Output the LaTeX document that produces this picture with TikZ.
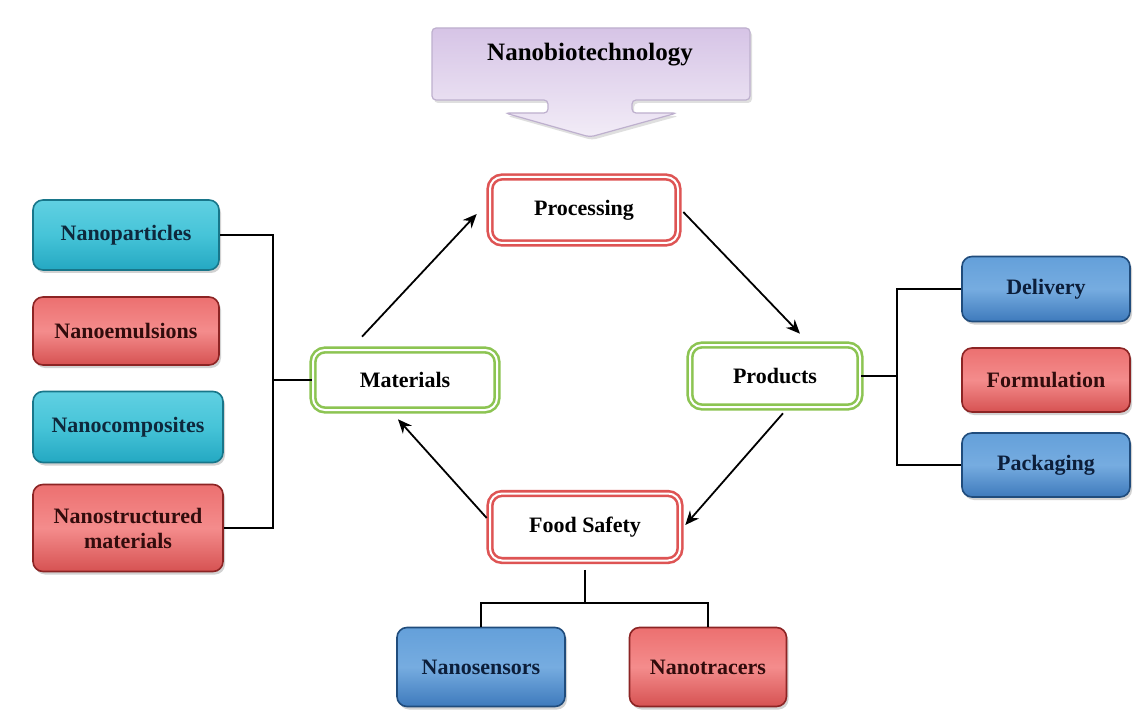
\documentclass[tikz,border=0pt]{standalone}
\usepackage{fontspec}
\setmainfont{Liberation Serif}
\usetikzlibrary{arrows.meta,shadows}

\definecolor{cyantop}{RGB}{96,208,226}
\definecolor{cyanmid}{RGB}{70,196,216}
\definecolor{cyanbot}{RGB}{36,168,194}
\definecolor{cyanline}{RGB}{24,118,138}
\definecolor{cyantext}{RGB}{14,40,60}
\definecolor{redtop}{RGB}{236,112,112}
\definecolor{redmid}{RGB}{244,140,140}
\definecolor{redbot}{RGB}{214,82,82}
\definecolor{redline}{RGB}{140,36,36}
\definecolor{redtext}{RGB}{50,12,12}
\definecolor{bluetop}{RGB}{100,160,218}
\definecolor{bluemid}{RGB}{118,172,224}
\definecolor{bluebot}{RGB}{62,122,188}
\definecolor{blueline}{RGB}{32,76,124}
\definecolor{bluetext}{RGB}{12,30,58}
\definecolor{framered}{RGB}{222,84,84}
\definecolor{framegreen}{RGB}{140,196,82}
\definecolor{lilactop}{RGB}{214,196,230}
\definecolor{lilacbot}{RGB}{242,236,247}
\definecolor{lilacline}{RGB}{190,176,206}

\begin{document}
\begin{tikzpicture}[x=0.5pt,y=-0.5pt,
	box/.style={rounded corners=5pt, draw=#1line, line width=0.8pt,
		top color=#1top, bottom color=#1bot, middle color=#1mid,
		drop shadow={opacity=0.35,shadow xshift=1pt,shadow yshift=-1.5pt},
		font=\bfseries\fontsize{11}{12.5}\selectfont, text=#1text,
		align=center, inner sep=0pt},
	frame/.style={rounded corners=6pt, draw=#1, double=white,
		double distance=1pt, line width=1.3pt, fill=white,
		font=\bfseries\fontsize{11}{12.5}\selectfont, inner sep=0pt},
	flow/.style={-{Stealth[length=7pt,width=6pt]}, line width=0.9pt},
	link/.style={line width=0.7pt}]

	% ---- page

	\useasboundingbox (0,0) rectangle (1142,717);
	\fill[white] (0,0) rectangle (1142,717);

	% ---- title arrow

	\draw[lilacline, line width=0.6pt, rounded corners=2pt,
		top color=lilactop, bottom color=lilacbot,
		drop shadow={opacity=0.25,shadow xshift=1pt,shadow yshift=-1.5pt}]
		(432,28) -- (750,28) -- (750,100) -- (632,100) -- (632,113)
		-- (677,113) -- (590,137) -- (505,113) -- (548,113) -- (548,100)
		-- (432,100) -- cycle;
	\node[font=\bfseries\fontsize{12.5}{14}\selectfont] (title) at (590,55) {Nanobiotechnology};

	% ---- cycle

	\node[frame=framered, minimum width=94pt, minimum height=33pt] (processing) at (584,210) {Processing};
	\node[frame=framegreen, minimum width=85pt, minimum height=31pt] (products) at (775,376) {Products};
	\node[frame=framered, minimum width=95pt, minimum height=33.5pt] (safety) at (585,527) {Food Safety};
	\node[frame=framegreen, minimum width=92pt, minimum height=30pt] (materials) at (405,380) {Materials};

	\draw[flow] ([xshift=-21.5pt,yshift=6pt]materials.north) -- ([xshift=-6pt,yshift=-2pt]processing.west);
	\draw[flow] ([xshift=2pt,yshift=-1pt]processing.east) -- ([xshift=12.5pt,yshift=5pt]products.north);
	\draw[flow] ([xshift=4pt,yshift=-2.5pt]products.south) -- ([xshift=2pt,yshift=1pt]safety.east);
	\draw[flow] ([xshift=-1pt,yshift=4.5pt]safety.west) -- ([xshift=-3.5pt,yshift=-4pt]materials.south);

	% ---- materials

	\node[box=cyan, minimum width=93pt, minimum height=35pt] (nparticles) at (126,235) {Nanoparticles};
	\node[box=red, minimum width=93pt, minimum height=34pt] (nemulsions) at (126,331) {Nanoemulsions};
	\node[box=cyan, minimum width=95pt, minimum height=35.5pt] (ncomposites) at (128,427) {Nanocomposites};
	\node[box=red, minimum width=95pt, minimum height=43.5pt] (nstructured) at (128,528) {Nanostructured\\materials};

	\coordinate (ljoin) at (273,380);
	\draw[link] (nparticles.east) -| (ljoin) |- (nstructured.east);
	\draw[link] (ljoin) -- (materials.west);

	% ---- products

	\node[box=blue, minimum width=84pt, minimum height=32.5pt] (delivery) at (1046,289) {Delivery};
	\node[box=red, minimum width=84pt, minimum height=32pt] (formulation) at (1046,380) {Formulation};
	\node[box=blue, minimum width=84pt, minimum height=32pt] (packaging) at (1046,465) {Packaging};

	\coordinate (rjoin) at (897,376);
	\draw[link] (products.east) -- (rjoin);
	\draw[link] (delivery.west) -| (rjoin) |- (packaging.west);

	% ---- food safety

	\node[box=blue, minimum width=84pt, minimum height=39.5pt] (nsensors) at (481,667) {Nanosensors};
	\node[box=red, minimum width=78.5pt, minimum height=39.5pt] (ntracers) at (708,667) {Nanotracers};

	\coordinate (bjoin) at (585,603);
	\draw[link, shorten <=4pt] (safety.south) -- (bjoin);
	\draw[link] (nsensors.north) |- (bjoin) -| (ntracers.north);

\end{tikzpicture}
\end{document}
